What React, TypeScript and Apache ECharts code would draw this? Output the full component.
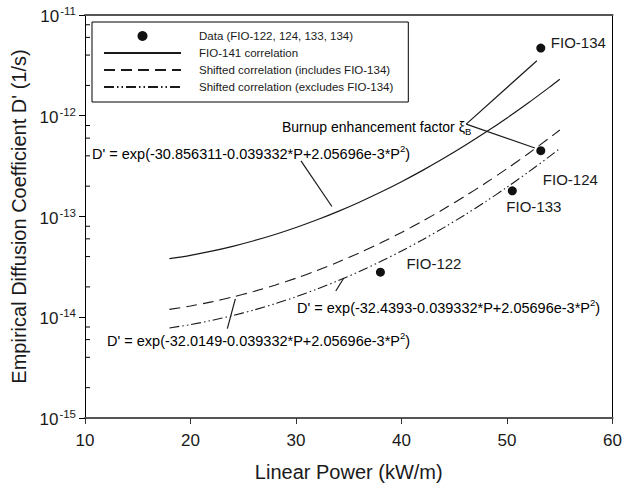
import React, { useEffect, useRef } from "react";
import * as echarts from "echarts";

// Linear power (kW/m) at which the correlation curves were read
const powerGrid = [18, 20, 22, 24, 26, 28, 30, 32, 34, 36, 38, 40, 42, 44, 46, 48, 50, 52, 54, 55];
// FIO-141 correlation (1/s)
const fio141 = [3.813e-14, 4.121e-14, 4.528e-14, 5.057e-14, 5.742e-14, 6.627e-14, 7.777e-14, 9.278e-14, 1.125e-13, 1.387e-13, 1.738e-13, 2.215e-13, 2.869e-13, 3.777e-13, 5.056e-13, 6.88e-13, 9.517e-13, 1.338e-12, 1.913e-12, 2.302e-12];
// Shifted correlation (includes FIO-134)
const shiftedIncl = [1.197e-14, 1.294e-14, 1.421e-14, 1.588e-14, 1.802e-14, 2.081e-14, 2.442e-14, 2.913e-14, 3.532e-14, 4.354e-14, 5.457e-14, 6.953e-14, 9.005e-14, 1.186e-13, 1.587e-13, 2.16e-13, 2.988e-13, 4.202e-13, 6.007e-13, 7.226e-13];
// Shifted correlation (excludes FIO-134)
const shiftedExcl = [7.83e-15, 8.462e-15, 9.298e-15, 1.039e-14, 1.179e-14, 1.361e-14, 1.597e-14, 1.905e-14, 2.311e-14, 2.848e-14, 3.57e-14, 4.548e-14, 5.891e-14, 7.757e-14, 1.038e-13, 1.413e-13, 1.954e-13, 2.749e-13, 3.929e-13, 4.727e-13];
// Measured data
const dataNames = ["FIO-122", "FIO-124", "FIO-133", "FIO-134"];
const dataPower = [38.0, 53.2, 50.5, 53.2];
const dataD = [2.8e-14, 4.5e-13, 1.8e-13, 4.7e-12];
// Axis ticks
const yMinorTicks = [2e-15, 4e-15, 6e-15, 8e-15, 2e-14, 4e-14, 6e-14, 8e-14, 2e-13, 4e-13, 6e-13, 8e-13, 2e-12, 4e-12, 6e-12, 8e-12];
// Annotation leader segments [x1, y1, x2, y2] in data units
const leaders = [
  [46.13, 8.25e-13, 52.83, 3.52e-12],
  [46.13, 8.25e-13, 52.64, 4.79e-13],
  [30.47, 3.56e-13, 33.4, 1.256e-13],
  [33.77, 1.82e-14, 34.53, 2.45e-14],
  [23.49, 7.71e-15, 24.25, 1.52e-14],
];

const legendNames = [
  "Data (FIO-122, 124, 133, 134)",
  "FIO-141 correlation",
  "Shifted correlation (includes FIO-134)",
  "Shifted correlation (excludes FIO-134)",
];

const FONT = "'Liberation Sans', Arial, Helvetica, sans-serif";
const INK = "#1a1a1a";

// label offsets [dx, dy] relative to the symbol box
const labelOffsets = [
  [30.5, -4.5],
  [6.5, 33.5],
  [-1.5, 20.5],
  [14.5, -1.5],
];

export default function App() {
  const ref = useRef<HTMLDivElement>(null);
  useEffect(() => {
    document.body.style.margin = "0";
    if (!ref.current) return;
    const chart = echarts.init(ref.current, undefined, { renderer: "svg" });
    const pair = (xs: number[], ys: number[]) => xs.map((x, i) => [x, ys[i]]);
    const expRich = {
      b: { fontSize: 17, fontFamily: FONT, color: INK, lineHeight: 20, verticalAlign: "bottom" },
      s: { fontSize: 11.5, fontFamily: FONT, color: INK, lineHeight: 20, verticalAlign: "top", padding: [0, 0, 0, 1] },
    };
    const formulaRich = {
      t: { fontSize: 14.5, fontFamily: FONT, color: INK, lineHeight: 18, verticalAlign: "bottom" },
      s: { fontSize: 9.5, fontFamily: FONT, color: INK, lineHeight: 18, verticalAlign: "top" },
    };
    const formula = (a: string) => `{t|D' = exp(${a}-0.039332*P+2.05696e-3*P}{s|2}{t|)}`;

    const option: any = {
      animation: false,
      backgroundColor: "#fff",
      textStyle: { fontFamily: FONT },
      grid: { left: 85, right: 10, top: 15, bottom: 66, show: false },
      legend: {
        orient: "vertical",
        left: 92,
        top: 22,
        itemWidth: 77,
        itemHeight: 10,
        itemGap: 5,
        padding: [8, 15, 9, 11],
        borderColor: "#000",
        borderWidth: 1,
        borderRadius: 0,
        backgroundColor: "#fff",
        selectedMode: false,
        data: legendNames.map((n, i) => (i === 0 ? { name: n } : { name: n, itemStyle: { opacity: 0 } })),
        textStyle: { fontSize: 11.5, fontFamily: FONT, color: INK, padding: [0, 0, 0, 13] },
      },
      xAxis: [
        {
          type: "value",
          min: 10,
          max: 60,
          interval: 10,
          name: "Linear Power (kW/m)",
          nameLocation: "middle",
          nameGap: 44,
          nameTextStyle: { fontSize: 20, fontFamily: FONT, color: INK },
          axisLine: { show: true, lineStyle: { color: "#555", width: 2 } },
          axisTick: { show: true, inside: false, length: 6, lineStyle: { color: "#333" } },
          axisLabel: { fontSize: 17, fontFamily: FONT, color: INK, margin: 14 },
          splitLine: { show: false },
        },
        {
          type: "value",
          min: 10,
          max: 60,
          position: "top",
          axisLine: { show: true, onZero: false, lineStyle: { color: "#555", width: 2 } },
          axisTick: { show: false },
          axisLabel: { show: false },
          splitLine: { show: false },
        },
      ],
      yAxis: [
        {
          type: "log",
          logBase: 10,
          min: 1e-15,
          max: 1e-11,
          name: "Empirical Diffusion Coefficient D' (1/s)",
          nameLocation: "middle",
          nameGap: 42,
          nameTextStyle: { fontSize: 20, fontFamily: FONT, color: INK },
          axisLine: { show: true, lineStyle: { color: "#000", width: 1 } },
          axisTick: { show: true, inside: false, length: 6, lineStyle: { color: "#000" } },
          axisLabel: {
            margin: 9,
            formatter: (v: number) => `{b|10}{s|${Math.round(Math.log10(v))}}`,
            rich: expRich,
          },
          splitLine: { show: false },
        },
        {
          type: "log",
          logBase: 10,
          min: 1e-15,
          max: 1e-11,
          position: "right",
          axisLine: { show: true, onZero: false, lineStyle: { color: "#000", width: 1 } },
          axisTick: { show: false },
          axisLabel: { show: false },
          splitLine: { show: false },
        },
      ],
      graphic: [
        { type: "text", left: 92, top: 143, style: { text: formula("-30.856311"), rich: formulaRich } },
        { type: "text", left: 297, top: 297, style: { text: formula("-32.4393"), rich: formulaRich } },
        { type: "text", left: 107, top: 330, style: { text: formula("-32.0149"), rich: formulaRich } },
        {
          type: "text",
          left: 282,
          top: 120,
          style: {
            text: "{t|Burnup enhancement factor ξ}{b|B}",
            rich: {
              t: { fontSize: 14, fontFamily: FONT, color: INK, lineHeight: 18, verticalAlign: "middle" },
              b: { fontSize: 9.5, fontFamily: FONT, color: INK, lineHeight: 18, verticalAlign: "bottom" },
            },
          },
        },
      ],
      series: [
        {
          name: legendNames[0],
          type: "scatter",
          symbol: "circle",
          symbolSize: 9,
          itemStyle: { color: "#111", opacity: 1 },
          data: dataPower.map((x, i) => ({
            name: dataNames[i],
            value: [x, dataD[i]],
            label: {
              show: true,
              formatter: dataNames[i],
              position: labelOffsets[i],
              align: "left",
              verticalAlign: "middle",
              fontSize: 15,
              fontFamily: FONT,
              color: INK,
            },
          })),
          z: 5,
        },
        {
          name: legendNames[1],
          type: "line",
          symbol: "none",
          smooth: 0.3,
          itemStyle: { color: INK },
          lineStyle: { color: INK, width: 1.2, type: "solid" },
          data: pair(powerGrid, fio141),
          markLine: {
            silent: true,
            symbol: ["none", "none"],
            label: { show: false },
            lineStyle: { color: INK, width: 1.2, type: "solid" },
            data: leaders.map((l) => [{ coord: [l[0], l[1]] }, { coord: [l[2], l[3]] }]),
          },
        },
        {
          name: legendNames[2],
          type: "line",
          symbol: "none",
          smooth: 0.3,
          itemStyle: { color: INK },
          lineStyle: { color: INK, width: 1.1, type: [11, 6] },
          data: pair(powerGrid, shiftedIncl),
        },
        {
          name: legendNames[3],
          type: "line",
          symbol: "none",
          smooth: 0.3,
          itemStyle: { color: INK },
          lineStyle: { color: INK, width: 1.1, type: [10, 3, 1.5, 3, 1.5, 3] },
          data: pair(powerGrid, shiftedExcl),
        },
        {
          type: "custom",
          silent: true,
          data: yMinorTicks.map((v) => [10, v]),
          renderItem: (_p: any, api: any) => {
            const pt = api.coord([10, api.value(1)]);
            return {
              type: "line",
              shape: { x1: pt[0], y1: pt[1], x2: pt[0] + 5, y2: pt[1] },
              style: { stroke: "#000", lineWidth: 1 },
            };
          },
        },
      ],
    };
    chart.setOption(option);
    return () => chart.dispose();
  }, []);
  return <div ref={ref} style={{ width: 625, height: 487 }} />;
}
